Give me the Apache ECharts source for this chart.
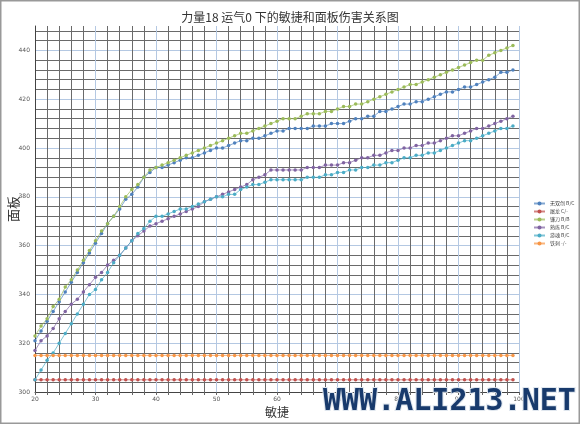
<!DOCTYPE html>
<html>
<head>
<meta charset="utf-8">
<title>力量18 运气0 下的敏捷和面板伤害关系图</title>
<script src="https://cdn.jsdelivr.net/npm/echarts@6.0.0/dist/echarts.min.js"></script>
<style>
    html, body { margin: 0; padding: 0; background: #fff; }
    #main { width: 580px; height: 424px; }
</style>
</head>
<body>
<div id="main"></div>
<script>
(function () {
    'use strict';

    var agility = [
        20, 21, 22, 23, 24, 25, 26, 27, 28, 29, 30, 31, 32, 33, 34, 35, 36, 37, 38, 39,
        40, 41, 42, 43, 44, 45, 46, 47, 48, 49, 50, 51, 52, 53, 54, 55, 56, 57, 58, 59,
        60, 61, 62, 63, 64, 65, 66, 67, 68, 69, 70, 71, 72, 73, 74, 75, 76, 77, 78, 79,
        80, 81, 82, 83, 84, 85, 86, 87, 88, 89, 90, 91, 92, 93, 94, 95, 96, 97, 98, 99
    ];

    var wushuang = [
        321, 325, 329, 333, 337, 341, 345, 349, 353, 357, 361, 365, 369, 372, 375, 379, 381, 384, 388, 390,
        392, 392, 393, 394, 395, 396, 396, 397, 398, 399, 400, 400, 401, 402, 403, 403, 404, 404, 405, 406,
        407, 407, 408, 408, 408, 408, 409, 409, 409, 410, 410, 410, 411, 412, 412, 413, 413, 415, 415, 416,
        417, 418, 418, 419, 419, 420, 421, 422, 423, 423, 424, 425, 425, 426, 427, 428, 429, 431, 431, 432
    ];
    var tulong = [
        305, 305, 305, 305, 305, 305, 305, 305, 305, 305, 305, 305, 305, 305, 305, 305, 305, 305, 305, 305,
        305, 305, 305, 305, 305, 305, 305, 305, 305, 305, 305, 305, 305, 305, 305, 305, 305, 305, 305, 305,
        305, 305, 305, 305, 305, 305, 305, 305, 305, 305, 305, 305, 305, 305, 305, 305, 305, 305, 305, 305,
        305, 305, 305, 305, 305, 305, 305, 305, 305, 305, 305, 305, 305, 305, 305, 305, 305, 305, 305, 305
    ];
    var liandao = [
        323, 327, 330, 335, 338, 343, 346, 350, 354, 358, 362, 366, 369, 372, 376, 380, 383, 385, 388, 391,
        392, 393, 394, 395, 396, 397, 398, 399, 400, 401, 402, 403, 404, 405, 406, 406, 407, 408, 409, 410,
        411, 412, 412, 412, 413, 414, 414, 414, 415, 415, 416, 417, 417, 418, 418, 419, 420, 421, 422, 423,
        424, 425, 426, 426, 427, 428, 429, 430, 431, 432, 433, 434, 435, 436, 436, 438, 439, 440, 441, 442
    ];
    var shulian = [
        317, 321, 323, 326, 330, 333, 336, 338, 341, 344, 347, 349, 352, 354, 356, 359, 362, 364, 366, 368,
        369, 370, 371, 372, 373, 374, 375, 376, 378, 379, 380, 381, 382, 383, 384, 385, 387, 388, 389, 391,
        391, 391, 391, 391, 391, 392, 392, 392, 393, 393, 393, 394, 394, 395, 396, 396, 397, 397, 398, 399,
        399, 400, 400, 401, 401, 402, 402, 403, 404, 405, 405, 406, 407, 408, 408, 409, 410, 411, 412, 413
    ];
    var youhun = [
        305, 309, 313, 316, 320, 324, 328, 332, 336, 340, 342, 346, 349, 353, 356, 359, 362, 365, 367, 370,
        372, 372, 373, 374, 375, 375, 376, 377, 378, 379, 380, 380, 381, 381, 383, 384, 385, 385, 386, 387,
        387, 387, 387, 387, 387, 388, 388, 388, 389, 389, 390, 390, 391, 391, 392, 392, 393, 393, 394, 394,
        395, 396, 396, 397, 397, 398, 398, 399, 400, 401, 402, 403, 403, 404, 405, 406, 407, 408, 408, 409
    ];
    var tieci = [
        315, 315, 315, 315, 315, 315, 315, 315, 315, 315, 315, 315, 315, 315, 315, 315, 315, 315, 315, 315,
        315, 315, 315, 315, 315, 315, 315, 315, 315, 315, 315, 315, 315, 315, 315, 315, 315, 315, 315, 315,
        315, 315, 315, 315, 315, 315, 315, 315, 315, 315, 315, 315, 315, 315, 315, 315, 315, 315, 315, 315,
        315, 315, 315, 315, 315, 315, 315, 315, 315, 315, 315, 315, 315, 315, 315, 315, 315, 315, 315, 315
    ];

    var seriesNames = ['无双剑 B/C', '屠龙 C/-', '镰刀 B/B', '熟练 B/C', '游魂 B/C', '铁刺 -/-'];
    var seriesValues = [wushuang, tulong, liandao, shulian, youhun, tieci];
    var seriesColors = ['#4f81bd', '#c0504d', '#9bbb59', '#8064a2', '#4bacc6', '#f79646'];

    var xTickStep = 10;
    var yTickStep = 20;

    var pairUp = function (values) {
        var out = [];
        for (var i = 0; i < agility.length; i++) {
            out.push([agility[i], values[i]]);
        }
        return out;
    };

    var series = [];
    for (var s = 0; s < seriesNames.length; s++) {
        series.push({
            name: seriesNames[s],
            type: 'line',
            data: pairUp(seriesValues[s]),
            symbol: 'circle',
            symbolSize: 3.5,
            animation: false,
            itemStyle: { color: seriesColors[s] },
            lineStyle: { color: seriesColors[s], width: 1, opacity: 0.7 }
        });
    }

    // light blue on the labelled lines, dark grey on the ones between
    var gridColors = ['#b4c8e2', '#6a6a6a', '#6a6a6a', '#6a6a6a', '#6a6a6a'];
    var labelStyle = { fontSize: 6, color: '#555', fontFamily: 'DejaVu Sans' };

    var chart = echarts.init(document.getElementById('main'), null, { renderer: 'canvas' });

    chart.setOption({
        backgroundColor: '#fff',
        animation: false,
        title: {
            text: '力量18 运气0 下的敏捷和面板伤害关系图',
            left: 'center',
            top: 6,
            textStyle: {
                fontSize: 12,
                fontWeight: 'normal',
                color: '#333',
                fontFamily: 'Noto Sans CJK SC'
            }
        },
        legend: {
            orient: 'vertical',
            left: 528,
            top: 196,
            itemWidth: 11,
            itemHeight: 5,
            itemGap: 3,
            textStyle: { fontSize: 5, color: '#444', fontFamily: 'Noto Sans CJK SC' },
            data: seriesNames
        },
        grid: {
            left: 35,
            right: 61,
            top: 26,
            bottom: 32,
            outerBoundsMode: 'none'
        },
        xAxis: {
            type: 'value',
            min: 20,
            max: 100,
            interval: 2,
            name: '敏捷',
            nameLocation: 'middle',
            nameGap: 11,
            nameTextStyle: { fontSize: 12, color: '#333', fontFamily: 'Noto Sans CJK SC' },
            axisLine: { lineStyle: { color: '#444', width: 1 } },
            axisTick: { show: true, length: 3, lineStyle: { color: '#666' } },
            axisLabel: Object.assign({
                margin: 4,
                formatter: function (v) {
                    return (v - 20) % xTickStep === 0 ? String(v) : '';
                }
            }, labelStyle),
            splitLine: { show: true, lineStyle: { color: gridColors, width: 1 } }
        },
        yAxis: {
            type: 'value',
            min: 300,
            max: 450,
            interval: 4,
            name: '面板',
            nameLocation: 'middle',
            nameGap: 15,
            nameMoveOverlap: false,
            nameTextStyle: { fontSize: 13, color: '#333', fontFamily: 'Noto Sans CJK SC' },
            axisLine: { show: true, lineStyle: { color: '#444', width: 1 } },
            axisTick: { show: false },
            axisLabel: Object.assign({
                margin: 5,
                formatter: function (v) {
                    return (v - 300) % yTickStep === 0 && v < 450 ? String(v) : '';
                }
            }, labelStyle),
            splitLine: { show: true, showMaxLine: false, lineStyle: { color: gridColors, width: 1 } }
        },
        graphic: [
            {
                type: 'rect',
                silent: true,
                shape: { x: 0.75, y: 0.75, width: 578.5, height: 422.5 },
                style: { fill: 'none', stroke: '#999', lineWidth: 1.5 }
            },
            {
                type: 'text',
                silent: true,
                left: 322,
                top: 386,
                z: 100,
                style: {
                    text: 'WWW.ALI213.NET',
                    font: 'bold 30px "DejaVu Sans Mono"',
                    fill: '#183a6c',
                    stroke: '#dfe6ee',
                    lineWidth: 2
                }
            }
        ],
        series: series
    });
})();
</script>
</body>
</html>
